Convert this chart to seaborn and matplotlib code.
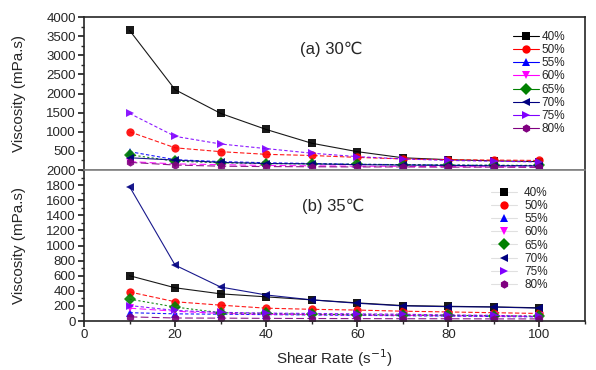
import numpy as np
import pandas as pd
import matplotlib.pyplot as plt
from matplotlib.lines import Line2D
from matplotlib.ticker import MultipleLocator
import seaborn as sns

# shear rate (1/s)
shear = [10, 20, 30, 40, 50, 60, 70, 80, 90, 100]
conc = ["40%", "50%", "55%", "60%", "65%", "70%", "75%", "80%"]

# (a) 30 C viscosity, mPa.s
v30_40 = [3650, 2100, 1480, 1060, 700, 480, 320, 270, 240, 220]
v30_50 = [1000, 580, 480, 410, 380, 330, 290, 270, 260, 250]
v30_55 = [480, 270, 220, 190, 170, 150, 140, 130, 120, 110]
v30_60 = [220, 160, 140, 120, 110, 100, 95, 90, 85, 80]
v30_65 = [400, 230, 190, 170, 160, 150, 140, 130, 125, 120]
v30_70 = [320, 260, 200, 170, 160, 140, 130, 120, 110, 110]
v30_75 = [1480, 880, 680, 560, 440, 350, 290, 250, 230, 210]
v30_80 = [200, 130, 100, 90, 85, 80, 80, 75, 75, 70]

# (b) 35 C viscosity, mPa.s
v35_40 = [600, 440, 360, 320, 280, 240, 205, 195, 187, 175]
v35_50 = [385, 255, 210, 170, 155, 145, 130, 120, 110, 100]
v35_55 = [110, 95, 90, 85, 80, 75, 70, 65, 60, 55]
v35_60 = [170, 130, 100, 90, 85, 80, 75, 70, 65, 60]
v35_65 = [290, 185, 110, 100, 90, 85, 80, 75, 70, 65]
v35_70 = [1780, 740, 450, 345, 280, 235, 200, 190, 185, 170]
v35_75 = [205, 140, 115, 105, 100, 95, 90, 80, 75, 60]
v35_80 = [55, 40, 38, 35, 33, 32, 30, 30, 28, 28]

data30 = [v30_40, v30_50, v30_55, v30_60, v30_65, v30_70, v30_75, v30_80]
data35 = [v35_40, v35_50, v35_55, v35_60, v35_65, v35_70, v35_75, v35_80]

colors = ["#000000", "#ff0000", "#0000ff", "#ff00ff", "#008000", "#000080", "#8000ff", "#800080"]
markers = ["s", "o", "^", "v", "D", "<", ">", "h"]
dashes = ["-", (0, (4, 2)), (0, (3, 2)), (0, (6, 3)), (0, (2, 2)), "-", (0, (3, 2)), (0, (7, 3))]

sns.set_theme(style="ticks")
plt.rcParams["font.family"] = ["Liberation Sans", "DejaVu Sans"]

fig = plt.figure(figsize=(5.96, 3.70), dpi=100)
ax_top = fig.add_axes([0.141, 0.5405, 0.8405, 0.4135])
ax_bot = fig.add_axes([0.141, 0.1324, 0.8405, 0.4081], sharex=ax_top)


def draw_panel(ax, values, ylim, major, minor):
    rows = []
    for c, v in zip(conc, values):
        for s, y in zip(shear, v):
            rows.append({"shear": s, "visc": y, "conc": c})
    df = pd.DataFrame(rows)
    for i, c in enumerate(conc):
        sub = df[df["conc"] == c]
        sns.lineplot(data=sub, x="shear", y="visc", ax=ax, color=colors[i],
                     marker=markers[i], markersize=6, markeredgewidth=0,
                     linewidth=0.8, linestyle=dashes[i], alpha=0.9, legend=False)
    ax.set_ylim(*ylim)
    ax.yaxis.set_major_locator(MultipleLocator(major))
    ax.yaxis.set_minor_locator(MultipleLocator(minor))
    ax.set_xlabel("")
    ax.set_ylabel("Viscosity (mPa.s)", fontsize=11)
    ax.tick_params(axis="both", which="major", direction="out", length=4,
                   labelsize=9.5, pad=2)
    ax.tick_params(axis="both", which="minor", direction="out", length=2)
    for sp in ax.spines.values():
        sp.set_linewidth(1.2)


draw_panel(ax_top, data30, (0, 4000), 500, 250)
draw_panel(ax_bot, data35, (0, 2000), 200, 100)

ax_top.set_xlim(0, 110)
ax_top.xaxis.set_major_locator(MultipleLocator(20))
ax_top.xaxis.set_minor_locator(MultipleLocator(10))
ax_top.tick_params(axis="x", labelbottom=False, bottom=False, which="both")
ax_top.spines["bottom"].set_color("#808080")
ax_bot.spines["top"].set_color("#808080")
ax_top.yaxis.set_label_coords(-0.115, 0.5)
ax_bot.yaxis.set_label_coords(-0.115, 0.5)
ax_top.set_yticks(np.arange(500, 4001, 500))
ax_bot.set_xlabel("Shear Rate (s$^{-1}$)", fontsize=11)

ax_top.text(0.432, 0.76, "(a) 30\u2103", transform=ax_top.transAxes, fontsize=12)
ax_bot.text(0.436, 0.73, "(b) 35\u2103", transform=ax_bot.transAxes, fontsize=12)

h_top = [Line2D([], [], color=colors[i], marker=markers[i], markersize=6,
                markeredgewidth=0, linewidth=0.8) for i in range(8)]
h_bot = [Line2D([], [], color=colors[i], marker=markers[i], markersize=6,
                markeredgewidth=0, linewidth=0.8) for i in range(8)]
leg1 = ax_top.legend(h_top, conc, loc="upper right", bbox_to_anchor=(0.97, 0.94),
                     frameon=False, fontsize=8.5, handlelength=2.2, handletextpad=0.2,
                     labelspacing=0.1, borderaxespad=0)
leg2 = ax_bot.legend(h_bot, conc, loc="upper right", bbox_to_anchor=(0.935, 0.92),
                     frameon=False, fontsize=8.5, handlelength=2.2, handletextpad=0.6,
                     labelspacing=0.1, borderaxespad=0)
for lh, c in zip(leg2.legend_handles, colors):
    lh.set_color("#e0e0e0")
    lh.set_markerfacecolor(c)
    lh.set_markeredgecolor(c)

fig.savefig("out.png", dpi=100)
